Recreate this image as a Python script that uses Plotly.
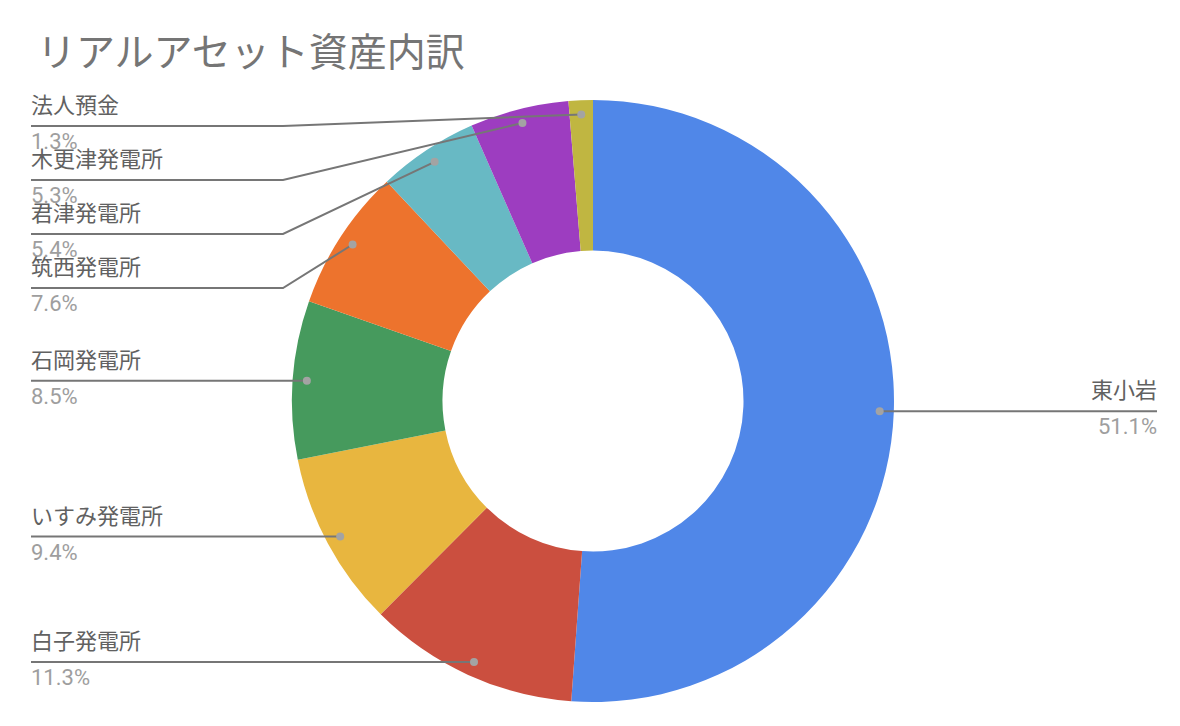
import math
import plotly.graph_objects as go

# ---- data ----
title_text = "リアルアセット資産内訳"
labels = ["東小岩", "白子発電所", "いすみ発電所", "石岡発電所", "筑西発電所",
          "君津発電所", "木更津発電所", "法人預金"]
values = [51.1, 11.3, 9.4, 8.5, 7.6, 5.4, 5.3, 1.3]
colors = ["#5087E8", "#CB4F3F", "#E8B63F", "#469A5D", "#ED732D",
          "#68B9C4", "#9D3DC0", "#C0B641"]

# ---- layout constants (pixels, page coordinates) ----
W, H = 1180, 726
OFF = 8  # default page margin around the plot div
CX, CY, R = 593, 401, 301
HOLE = 0.5
DOT_FRAC = 0.953
LEFT_X = 31
RIGHT_X = 1157
ELBOW_X = 283
TOP_LINE = 126
GAP = 54
LINE_COLOR = "#767676"
DOT_COLOR = "#A3A3A3"
NAME_COLOR = "#616161"
PCT_COLOR = "#9E9E9E"
FONT = "Roboto, Noto Sans CJK JP, sans-serif"


def px(x):
    return (x - OFF) / W


def py(y):
    return 1 - (y - OFF) / H


fig = go.Figure()
fig.add_trace(go.Pie(
    labels=labels, values=values, hole=HOLE, sort=False, direction="clockwise",
    rotation=0, marker=dict(colors=colors, line=dict(width=0)),
    textinfo="none", hoverinfo="label+value", showlegend=False,
    domain=dict(x=[px(CX - R), px(CX + R)], y=[py(CY + R), py(CY - R)]),
))

total = sum(values)
cum = 0
items = []
for lab, v in zip(labels, values):
    mid = (cum + v / 2) / total * 2 * math.pi
    cum += v
    dx = CX + DOT_FRAC * R * math.sin(mid)
    dy = CY - DOT_FRAC * R * math.cos(mid)
    side = "right" if math.sin(mid) > 0 else "left"
    items.append(dict(label=lab, pct=f"{v:.1f}%", x=dx, y=dy, side=side))

shapes = []
annotations = []


def add_label(it, ly, tx, anchor):
    shift = -2 if anchor == "left" else 2
    annotations.append(dict(x=px(tx + shift), y=py(ly - 6), xref="paper", yref="paper",
                            text=it["label"], showarrow=False, xanchor=anchor,
                            yanchor="bottom", font=dict(size=22, color=NAME_COLOR, family=FONT)))
    annotations.append(dict(x=px(tx + shift), y=py(ly + 1), xref="paper", yref="paper",
                            text=it["pct"], showarrow=False, xanchor=anchor,
                            yanchor="top", font=dict(size=22, color=PCT_COLOR, family=FONT)))


left = sorted([it for it in items if it["side"] == "left"], key=lambda d: d["y"])
prev = None
for it in left:
    ly = max(it["y"], TOP_LINE) if prev is None else max(it["y"], prev + GAP)
    prev = ly
    if abs(ly - it["y"]) < 1:
        path = f"M {px(LEFT_X)},{py(ly)} L {px(it['x'])},{py(it['y'])}"
    else:
        path = (f"M {px(LEFT_X)},{py(ly)} L {px(ELBOW_X)},{py(ly)} "
                f"L {px(it['x'])},{py(it['y'])}")
    shapes.append(dict(type="path", path=path, xref="paper", yref="paper",
                       line=dict(color=LINE_COLOR, width=2), layer="above"))
    add_label(it, ly, LEFT_X, "left")

for it in [it for it in items if it["side"] == "right"]:
    ly = it["y"]
    path = f"M {px(RIGHT_X)},{py(ly)} L {px(it['x'])},{py(it['y'])}"
    shapes.append(dict(type="path", path=path, xref="paper", yref="paper",
                       line=dict(color=LINE_COLOR, width=2), layer="above"))
    add_label(it, ly, RIGHT_X, "right")

for it in items:
    r = 4
    shapes.append(dict(type="circle", xref="paper", yref="paper",
                       x0=px(it["x"] - r), x1=px(it["x"] + r),
                       y0=py(it["y"] + r), y1=py(it["y"] - r),
                       fillcolor=DOT_COLOR, line=dict(width=0), layer="above"))

annotations.append(dict(x=px(35), y=py(53), xref="paper", yref="paper",
                        text=title_text, showarrow=False, xanchor="left", yanchor="middle",
                        font=dict(size=39, color="#757575", family=FONT)))

fig.update_layout(
    width=W, height=H, margin=dict(l=0, r=0, t=0, b=0),
    paper_bgcolor="white", plot_bgcolor="white",
    shapes=shapes, annotations=annotations,
)

fig.write_html("out.html")
